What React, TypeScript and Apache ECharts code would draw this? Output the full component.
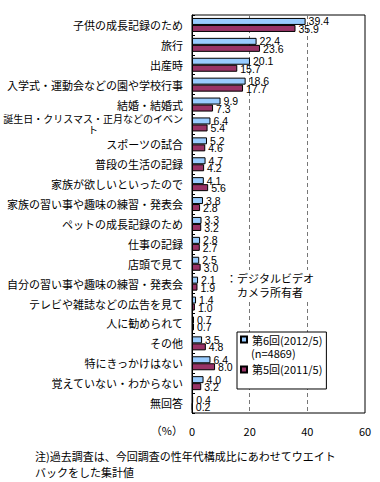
import React, { useEffect, useRef } from "react";
import * as echarts from "echarts";

const categories = [
  "子供の成長記録のため",
  "旅行",
  "出産時",
  "入学式・運動会などの園や学校行事",
  "結婚・結婚式",
  "誕生日・クリスマス・正月などのイベント",
  "スポーツの試合",
  "普段の生活の記録",
  "家族が欲しいといったので",
  "家族の習い事や趣味の練習・発表会",
  "ペットの成長記録のため",
  "仕事の記録",
  "店頭で見て",
  "自分の習い事や趣味の練習・発表会",
  "テレビや雑誌などの広告を見て",
  "人に勧められて",
  "その他",
  "特にきっかけはない",
  "覚えていない・わからない",
  "無回答",
];

const round6 = [39.4, 22.4, 20.1, 18.6, 9.9, 6.4, 5.2, 4.7, 4.1, 3.8, 3.3, 2.8, 2.5, 2.1, 1.4, 0.7, 3.5, 6.4, 4.0, 0.4];
const round5 = [35.9, 23.6, 15.7, 17.7, 7.3, 5.4, 4.6, 4.2, 5.6, 2.8, 3.2, 2.7, 3.0, 1.9, 1.0, 0.7, 4.8, 8.0, 3.2, 0.2];

const seriesNames = ["第6回(2012/5)", "第5回(2011/5)"];
const legendSubText = "(n=4869)";
const annotation = "：デジタルビデオ\nカメラ所有者";
const unitLabel = "（%）";
const noteText = "注)過去調査は、今回調査の性年代構成比にあわせてウエイト\nバックをした集計値";

const FONT = "'Noto Sans CJK JP', 'Noto Sans', sans-serif";
const NUM_FONT = "'Liberation Sans', sans-serif";

export default function App() {
  const ref = useRef<HTMLDivElement>(null);
  useEffect(() => {
    document.body.style.margin = "0";
    const chart = echarts.init(ref.current!, null, { renderer: "svg" });
    const longLabel = categories[5];
    const valueLabel = (dy: number) => ({
      show: true,
      position: "right",
      distance: 3,
      offset: [0, dy],
      fontSize: 10.5,
      lineHeight: 8,
      color: "#000",
      fontFamily: NUM_FONT,
      formatter: (p: any) => p.value.toFixed(1),
    });
    chart.setOption({
      animation: false,
      backgroundColor: "#fff",
      textStyle: { fontFamily: FONT },
      grid: {
        left: 192,
        right: 15,
        top: 15,
        bottom: 69,
        show: true,
        borderColor: "#000",
        borderWidth: 1,
        backgroundColor: "transparent",
      },
      xAxis: {
        type: "value",
        min: 0,
        max: 60,
        interval: 20,
        axisLine: { show: false },
        axisTick: { show: false },
        axisLabel: { color: "#000", fontSize: 11, fontFamily: FONT, margin: 12 },
        splitLine: {
          show: true,
          showMinLine: false,
          showMaxLine: false,
          lineStyle: { color: "#777", type: [4, 3], width: 1 },
        },
      },
      yAxis: {
        type: "category",
        data: categories,
        inverse: true,
        axisLine: { show: true, lineStyle: { color: "#000" } },
        axisTick: { show: true, inside: true, length: 3, lineStyle: { color: "#000" } },
        axisLabel: {
          color: "#000",
          fontSize: 11,
          fontFamily: FONT,
          margin: 9,
          interval: 0,
          formatter: (v: string) =>
            v === longLabel ? "{s|誕生日・クリスマス・正月などのイベン}\n{c|ト}" : v,
          rich: {
            s: { fontSize: 10, fontFamily: FONT, color: "#000", lineHeight: 11 },
            c: { fontSize: 10, fontFamily: FONT, color: "#000", lineHeight: 11, align: "center" },
          },
        },
      },
      legend: {
        orient: "vertical",
        left: 237,
        top: 332,
        padding: [2, 4, 14, 3],
        itemGap: 19,
        itemWidth: 6,
        itemHeight: 6,
        icon: "rect",
        backgroundColor: "#fff",
        borderColor: "#000",
        borderWidth: 1,
        textStyle: { fontSize: 11, color: "#000", fontFamily: FONT },
        data: seriesNames,
        z: 6,
      },
      series: [
        {
          name: seriesNames[0],
          type: "bar",
          data: round6,
          barWidth: 7,
          barGap: "0%",
          itemStyle: { color: "#99CCFF", borderColor: "#000", borderWidth: 1 },
          label: valueLabel(0),
        },
        {
          name: seriesNames[1],
          type: "bar",
          data: round5,
          barWidth: 7,
          barGap: "0%",
          itemStyle: { color: "#993366", borderColor: "#000", borderWidth: 1 },
          label: valueLabel(0.5),
        },
      ],
      graphic: [
        {
          type: "text",
          z: 10,
          x: 251,
          y: 353,
          style: { text: legendSubText, fontSize: 11, fontFamily: FONT, fill: "#000", verticalAlign: "middle", align: "left" },
        },
        {
          type: "text",
          z: 5,
          x: 270,
          y: 285,
          style: {
            text: annotation,
            fontSize: 11,
            fontFamily: FONT,
            fill: "#000",
            align: "center",
            verticalAlign: "middle",
            lineHeight: 14,
            backgroundColor: "#fff",
            padding: [1, 2],
          },
        },
        {
          type: "text",
          z: 5,
          x: 183,
          y: 430,
          style: { text: unitLabel, fontSize: 11, fontFamily: FONT, fill: "#000", align: "right", verticalAlign: "middle" },
        },
        {
          type: "text",
          z: 5,
          x: 35,
          y: 448,
          style: { text: noteText, fontSize: 11, fontFamily: FONT, fill: "#000", align: "left", verticalAlign: "top", lineHeight: 16 },
        },
      ],
    });
    return () => chart.dispose();
  }, []);
  return <div ref={ref} style={{ position: "fixed", left: 0, top: 0, width: 380, height: 482 }} />;
}
